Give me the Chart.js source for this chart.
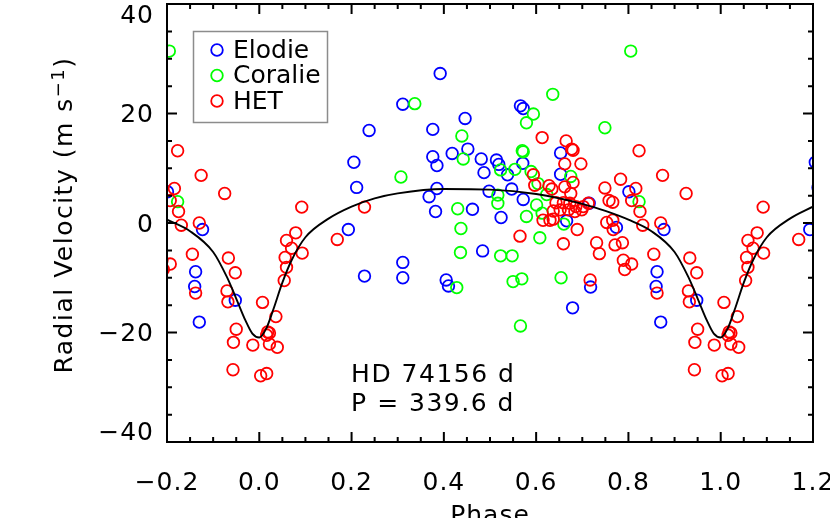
<!DOCTYPE html>
<html>
<head>
<meta charset="utf-8">
<script src="https://cdn.jsdelivr.net/npm/chart.js@4.4.0/dist/chart.umd.min.js"></script>
<style>
  html, body { margin: 0; padding: 0; background: #fff; }
  #rvChart { display: block; }
</style>
</head>
<body>
<canvas id="rvChart" width="830" height="518"></canvas>
<script>
// phase-folded radial velocities (one cycle, repeated at +/-1 when drawn)
const elodiePhase = [0.193, 0.205, 0.211, 0.238, 0.228, 0.311, 0.311, 0.311, 0.392, 0.376, 0.446, 0.376,
  0.385, 0.418, 0.452, 0.481, 0.487, 0.514, 0.519, 0.538, 0.566, 0.572, 0.571, 0.572, 0.653, 0.653,
  0.385, 0.368, 0.498, 0.547, 0.382, 0.462, 0.524, 0.715, 0.666, 0.405, 0.410, 0.484, 0.718, 0.679,
  0.801, 0.774, 0.877, 0.862, 0.860, 0.870, 0.948];
const elodieRV = [-1.2, 11.1, 6.5, 16.9, -9.7, 21.7, -7.2, -10.0, 27.3, 17.1, 19.1, 12.1,
  10.5, 12.7, 13.5, 11.7, 9.2, 11.5, 10.7, 8.8, 21.4, 20.9, 10.9, 4.3, 12.8, 8.9,
  6.3, 4.8, 5.8, 6.2, 2.1, 2.5, 1.0, 3.6, 0.4, -10.4, -11.5, -5.1, -11.7, -15.5,
  5.7, -0.8, -1.2, -8.9, -11.6, -18.1, -14.1];

const coraliePhase = [0.805, 0.337, 0.636, 0.594, 0.579, 0.749, 0.439, 0.442, 0.570, 0.572, 0.307, 0.523,
  0.554, 0.589, 0.604, 0.675, 0.623, 0.517, 0.517, 0.430, 0.601, 0.579, 0.613, 0.437, 0.660, 0.823,
  0.608, 0.436, 0.523, 0.548, 0.550, 0.569, 0.428, 0.654, 0.566];
const coralieRV = [31.4, 21.8, 23.5, 19.9, 18.3, 17.4, 15.9, 11.7, 13.2, 13.0, 8.4, 9.7,
  9.8, 9.4, 7.2, 8.5, 5.2, 5.1, 3.6, 2.6, 3.3, 1.2, 1.8, -1.0, -0.2, 3.9,
  -2.7, -5.4, -6.0, -6.0, -10.7, -10.2, -11.8, -10.0, -18.8];

const hetPhase = [0.007, 0.036, 0.018, 0.022, 0.016, 0.022, 0.039, 0.003, 0.016, 0.054, 0.059, 0.056,
  0.070, 0.059, 0.079, 0.093, 0.092, 0.169, 0.228, 0.565, 0.594, 0.597, 0.613, 0.628, 0.634, 0.615,
  0.630, 0.637, 0.637, 0.643, 0.652, 0.659, 0.659, 0.662, 0.662, 0.665, 0.670, 0.673, 0.675, 0.677,
  0.680, 0.680, 0.684, 0.686, 0.689, 0.697, 0.699, 0.702, 0.713, 0.717, 0.731, 0.737, 0.749, 0.753,
  0.758, 0.766, 0.766, 0.767, 0.771, 0.783, 0.787, 0.789, 0.792, 0.807, 0.807, 0.816, 0.823, 0.825,
  0.831, 0.855, 0.862, 0.870, 0.874, 0.925, 0.930, 0.932, 0.933, 0.943, 0.944, 0.948, 0.950, 0.986];
const hetRV = [-14.5, -17.1, -19.9, -20.1, -20.5, -22.1, -22.7, -27.9, -27.5, -10.5, -8.1, -6.3,
  -4.6, -3.2, -1.8, -5.5, 2.9, -3.0, 2.9, -2.4, 8.8, 6.9, 15.6, 6.8, 6.2, 0.5,
  0.5, 0.7, 2.2, 3.7, 2.4, 3.7, -3.8, 10.8, 6.6, 15.0, 2.4, 3.6, 5.4, 13.5,
  13.3, 7.4, 2.1, 3.0, -1.2, 10.8, 2.4, 3.0, 3.6, -10.4, -3.6, -5.6, 6.4, 0.1,
  4.1, 3.8, 0.5, -1.2, -4.0, 8.0, -3.6, -6.8, -8.5, -7.5, 4.1, 6.3, 13.2, 2.1,
  -0.4, -5.7, -12.8, 0.0, 8.7, 5.4, -12.4, -14.4, -6.4, -26.8, -21.8, -9.1, -19.4, -22.3];

// orbit fit
const modelPhase = [-0.2, -0.15, -0.1, -0.07, -0.05, -0.03, -0.015, 0, 0.015, 0.03, 0.05, 0.07, 0.1,
  0.15, 0.2, 0.25, 0.3, 0.4, 0.5, 0.6, 0.7, 0.75, 0.8, 0.85, 0.9, 0.93, 0.95, 0.97, 0.985, 1.0,
  1.015, 1.03, 1.05, 1.07, 1.1, 1.15, 1.2];
const modelRV = [0.6, -1.5, -5.3, -9.9, -13.8, -17.8, -20.2, -20.9, -19.3, -15.9, -10.9, -6.8, -2.6,
  0.8, 3.0, 4.5, 5.4, 6.2, 6.1, 5.3, 3.5, 2.2, 0.6, -1.5, -5.3, -9.9, -13.8, -17.8, -20.2, -20.9,
  -19.3, -15.9, -10.9, -6.8, -2.6, 0.8, 3.0];

const yTickLabels = [-40, -20, 0, 20, 40];
const seriesNames = ['Elodie', 'Coralie', 'HET'];
const starName = 'HD 74156 d';
const periodText = 'P = 339.6 d';

const FONT = '"DejaVu Sans", "Liberation Sans", sans-serif';

function foldPoints(phases, rvs) {
  const pts = [];
  phases.forEach((p, i) => {
    pts.push({ x: p, y: rvs[i] });
    if (p < 0.25) pts.push({ x: p + 1, y: rvs[i] });
    if (p > 0.75) pts.push({ x: p - 1, y: rvs[i] });
  });
  return pts;
}

function minusFmt(v, digits) {
  if (Math.abs(v) < 1e-9) v = 0;
  const s = Math.abs(v).toFixed(digits);
  return v < 0 ? '\u2212' + s : s;
}

function noPad(s) {
  s.paddingLeft = 0; s.paddingRight = 0; s.paddingTop = 0; s.paddingBottom = 0;
}

const framePlugin = {
  id: 'frame',
  beforeDraw(chart) {
    chart.ctx.letterSpacing = '1px';
  },
  afterDraw(chart) {
    const { ctx, chartArea: a, scales: { x, y } } = chart;
    ctx.save();
    ctx.strokeStyle = '#000';
    ctx.lineWidth = 2;
    ctx.strokeRect(a.left, a.top, a.right - a.left, a.bottom - a.top);

    // inward ticks on all four sides
    ctx.beginPath();
    for (let i = 0; i <= 28; i++) {
      const px = x.getPixelForValue(-0.2 + i * 0.05);
      const len = i % 4 === 0 ? 10 : 5;
      ctx.moveTo(px, a.bottom); ctx.lineTo(px, a.bottom - len);
      ctx.moveTo(px, a.top); ctx.lineTo(px, a.top + len);
    }
    for (let i = 0; i <= 16; i++) {
      const py = y.getPixelForValue(-40 + i * 5);
      const len = i % 4 === 0 ? 10 : 5;
      ctx.moveTo(a.left, py); ctx.lineTo(a.left + len, py);
      ctx.moveTo(a.right, py); ctx.lineTo(a.right - len, py);
    }
    ctx.stroke();

    // y tick labels
    ctx.fillStyle = '#000';
    ctx.font = '25px ' + FONT;
    ctx.letterSpacing = '1px';
    ctx.textAlign = 'right';
    ctx.textBaseline = 'middle';
    yTickLabels.forEach(v => {
      let py = y.getPixelForValue(v) + 2;
      py = Math.min(Math.max(py, a.top + 12), a.bottom - 9);
      ctx.fillText(minusFmt(v, 0), 154, py);
    });

    // y title with superscript
    ctx.save();
    ctx.translate(63, 215);
    ctx.rotate(-Math.PI / 2);
    ctx.textAlign = 'left';
    ctx.textBaseline = 'alphabetic';
    ctx.letterSpacing = '1.5px';
    const mainTxt = 'Radial Velocity (m s', supTxt = '\u22121', endTxt = ')';
    ctx.font = '25px ' + FONT;
    const w1 = ctx.measureText(mainTxt).width, w3 = ctx.measureText(endTxt).width;
    ctx.font = '18px ' + FONT;
    const w2 = ctx.measureText(supTxt).width;
    let cx = -(w1 + w2 + w3) / 2;
    ctx.font = '25px ' + FONT;
    ctx.fillText(mainTxt, cx, 9); cx += w1;
    ctx.font = '18px ' + FONT;
    ctx.fillText(supTxt, cx, 1); cx += w2;
    ctx.font = '25px ' + FONT;
    ctx.fillText(endTxt, cx, 9);
    ctx.restore();

    // annotation
    ctx.textAlign = 'left';
    ctx.textBaseline = 'middle';
    ctx.font = '25px ' + FONT;
    ctx.letterSpacing = '1.5px';
    ctx.fillText(starName, x.getPixelForValue(0.199), y.getPixelForValue(-27.8));
    ctx.fillText(periodText, x.getPixelForValue(0.199), y.getPixelForValue(-33.2));

    // legend box
    ctx.lineWidth = 1.5;
    ctx.strokeStyle = '#8c8c8c';
    ctx.strokeRect(193.5, 31.5, 134, 91);
    ctx.letterSpacing = '0px';
    ctx.font = '25px ' + FONT;
    chart.data.datasets.slice(1).forEach((ds, i) => {
      const ry = 50 + i * 25.5;
      ctx.beginPath();
      ctx.strokeStyle = ds.borderColor;
      ctx.lineWidth = 1.8;
      ctx.arc(217, ry, 5.8, 0, Math.PI * 2);
      ctx.stroke();
      ctx.fillStyle = '#000';
      ctx.fillText(ds.label, 233, ry + 1);
    });
    ctx.restore();
  }
};

const pointStyle = {
  backgroundColor: 'rgba(0,0,0,0)',
  pointRadius: 5.8,
  pointBorderWidth: 1.8,
  showLine: false,
  clip: 0
};

new Chart(document.getElementById('rvChart'), {
  type: 'scatter',
  data: {
    datasets: [
      {
        label: 'fit',
        data: modelPhase.map((p, i) => ({ x: p, y: modelRV[i] })),
        showLine: true,
        borderColor: '#000',
        borderWidth: 1.9,
        pointRadius: 0,
        cubicInterpolationMode: 'monotone',
        clip: 0,
        order: 0
      },
      Object.assign({ label: seriesNames[0], data: foldPoints(elodiePhase, elodieRV), borderColor: '#0000ff', order: 3 }, pointStyle),
      Object.assign({ label: seriesNames[1], data: foldPoints(coraliePhase, coralieRV), borderColor: '#00ff00', order: 2 }, pointStyle),
      Object.assign({ label: seriesNames[2], data: foldPoints(hetPhase, hetRV), borderColor: '#ff0000', order: 1 }, pointStyle)
    ]
  },
  options: {
    responsive: false,
    animation: false,
    events: [],
    devicePixelRatio: 1,
    layout: { autoPadding: false, padding: { top: 4, right: 17, left: 0, bottom: 0 } },
    plugins: { legend: { display: false }, tooltip: { enabled: false } },
    scales: {
      x: {
        type: 'linear',
        min: -0.2,
        max: 1.2,
        afterFit: s => { s.height = 76; noPad(s); },
        grid: { display: false, drawTicks: false },
        border: { display: false },
        ticks: {
          stepSize: 0.2,
          autoSkip: false,
          maxRotation: 0,
          padding: 26,
          color: '#000',
          font: { family: FONT, size: 25 },
          callback: v => minusFmt(v, 1)
        },
        title: {
          display: true,
          text: 'Phase',
          color: '#000',
          font: { family: FONT, size: 25 },
          padding: { top: 0, bottom: -13 }
        }
      },
      y: {
        min: -40,
        max: 40,
        afterFit: s => { s.width = 167; noPad(s); },
        grid: { display: false, drawTicks: false },
        border: { display: false },
        ticks: { display: false, stepSize: 20 }
      }
    }
  },
  plugins: [framePlugin]
});
</script>
</body>
</html>
